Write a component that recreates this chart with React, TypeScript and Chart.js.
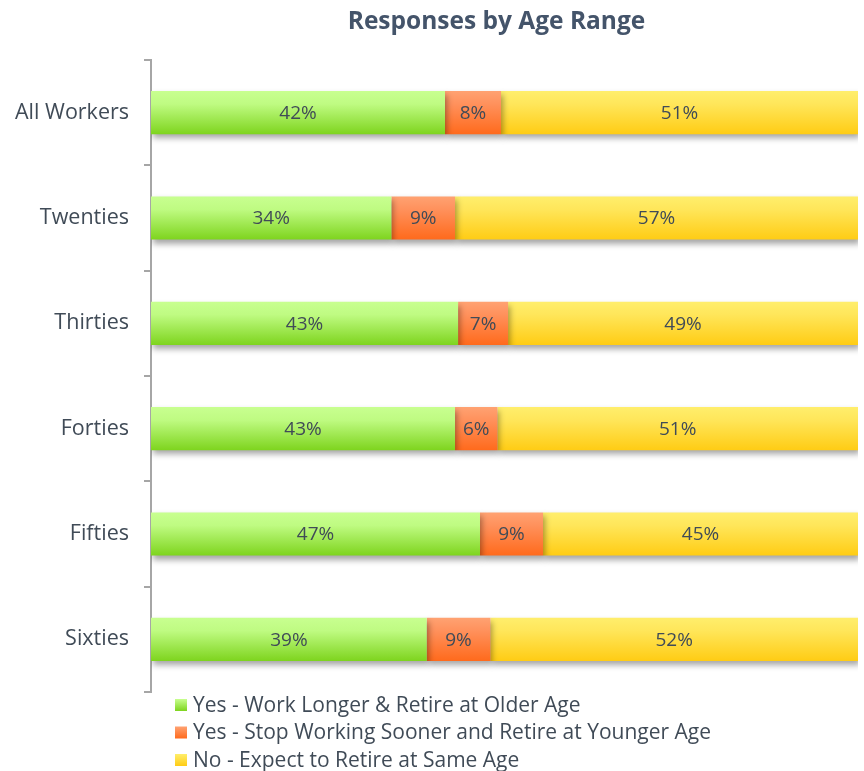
import React, { useEffect, useRef } from "react";
import { Chart, registerables } from "chart.js";

Chart.register(...registerables);

const titleText = "Responses by Age Range";
const categories = ["All Workers", "Twenties", "Thirties", "Forties", "Fifties", "Sixties"];
const seriesLabels = [
  "Yes - Work Longer & Retire at Older Age",
  "Yes - Stop Working Sooner and Retire at Younger Age",
  "No - Expect to Retire at Same Age",
];
const workLonger = [42, 34, 43, 43, 47, 39];
const stopSooner = [8, 9, 7, 6, 9, 9];
const sameAge = [51, 57, 49, 51, 45, 52];

const FONT = "'Open Sans', sans-serif";
const TEXT = "#404B57";
const BAR_PCT = 0.41;

const gradStops = [
  ["#C8FF90", "#BFFB82", "#7ED41E"],
  ["#FFA272", "#FF915C", "#FF6A1C"],
  ["#FFEE6C", "#FFE65A", "#FFCC14"],
];

const totals = categories.map((_, i) => workLonger[i] + stopSooner[i] + sameAge[i]);
const rawSeries = [workLonger, stopSooner, sameAge];

function makeBg(si: number) {
  return (ctx: any) => {
    const chart = ctx.chart;
    const y = chart.scales?.y;
    if (!chart.chartArea || !y || ctx.dataIndex === undefined) return gradStops[si][2];
    const c = y.getPixelForValue(ctx.dataIndex);
    const step = Math.abs(y.getPixelForValue(1) - y.getPixelForValue(0));
    const h = (step * BAR_PCT) / 2;
    const g = chart.ctx.createLinearGradient(0, c - h, 0, c + h);
    g.addColorStop(0, gradStops[si][0]);
    g.addColorStop(0.3, gradStops[si][1]);
    g.addColorStop(1, gradStops[si][2]);
    return g;
  };
}

const decorPlugin = {
  id: "decor",
  beforeDatasetsDraw(chart: any) {
    const ctx = chart.ctx;
    ctx.save();
    ctx.shadowColor = "rgba(0,0,0,0.35)";
    ctx.shadowBlur = 6;
    ctx.shadowOffsetX = 2;
    ctx.shadowOffsetY = 4;
  },
  afterDatasetsDraw(chart: any) {
    const ctx = chart.ctx;
    ctx.restore();
    ctx.save();
    ctx.font = `19px ${FONT}`;
    ctx.fillStyle = TEXT;
    ctx.textAlign = "center";
    ctx.textBaseline = "middle";
    chart.data.datasets.forEach((ds: any, di: number) => {
      const meta = chart.getDatasetMeta(di);
      meta.data.forEach((el: any, i: number) => {
        const cx = (el.x + el.base) / 2;
        ctx.fillText(`${rawSeries[di][i]}%`, cx, el.y + 1);
      });
    });
    ctx.restore();
  },
  afterDraw(chart: any) {
    const ctx = chart.ctx;
    const area = chart.chartArea;
    ctx.save();
    // title
    ctx.font = `bold 24.5px ${FONT}`;
    ctx.fillStyle = "#44546A";
    ctx.textAlign = "center";
    ctx.textBaseline = "middle";
    ctx.fillText(titleText, (area.left + area.right) / 2 - 8, 22);
    // legend
    ctx.font = `21px ${FONT}`;
    ctx.textAlign = "left";
    chart.data.datasets.forEach((ds: any, i: number) => {
      const cy = area.bottom + 13 + i * 27.5;
      const bx = area.left + 24;
      const g = ctx.createLinearGradient(0, cy - 6, 0, cy + 6);
      g.addColorStop(0, gradStops[i][0]);
      g.addColorStop(1, gradStops[i][2]);
      ctx.fillStyle = g;
      ctx.fillRect(bx, cy - 6, 12, 12);
      ctx.fillStyle = TEXT;
      ctx.fillText(ds.label, bx + 18, cy + 1);
    });
    ctx.restore();
  },
};

export default function App() {
  const ref = useRef<HTMLCanvasElement | null>(null);
  useEffect(() => {
    if (!ref.current) return;
    const chart = new Chart(ref.current, {
      type: "bar",
      data: {
        labels: categories,
        datasets: rawSeries.map((arr, si) => ({
          label: seriesLabels[si],
          data: arr.map((v, i) => (v / totals[i]) * 100),
          backgroundColor: makeBg(si),
          borderWidth: 0,
          borderSkipped: false,
          barPercentage: 1,
          categoryPercentage: BAR_PCT,
        })),
      },
      options: {
        indexAxis: "y",
        animation: false,
        responsive: false,
        maintainAspectRatio: false,
        layout: { padding: { top: 60, bottom: 79, right: 6, left: 0 } },
        plugins: {
          legend: { display: false },
          title: { display: false },
          tooltip: { enabled: false },
        },
        scales: {
          x: { stacked: true, display: false, min: 0, max: 100 },
          y: {
            stacked: true,
            offset: true,
            afterFit: (scale: any) => {
              scale.width = 151;
            },
            border: { display: true, color: "#A6A6A6", width: 2 },
            grid: {
              display: true,
              offset: true,
              drawOnChartArea: false,
              drawTicks: true,
              tickLength: 7,
              color: "#A6A6A6",
              lineWidth: 2,
            },
            ticks: {
              padding: 15,
              color: TEXT,
              font: { family: FONT, size: 21.5 },
            },
          },
        },
      },
      plugins: [decorPlugin],
    } as any);
    return () => chart.destroy();
  }, []);
  return (
    <div style={{ position: "fixed", left: 0, top: 0, width: 864, height: 771, background: "#fff" }}>
      <canvas ref={ref} width={864} height={771} style={{ width: 864, height: 771 }} />
    </div>
  );
}
